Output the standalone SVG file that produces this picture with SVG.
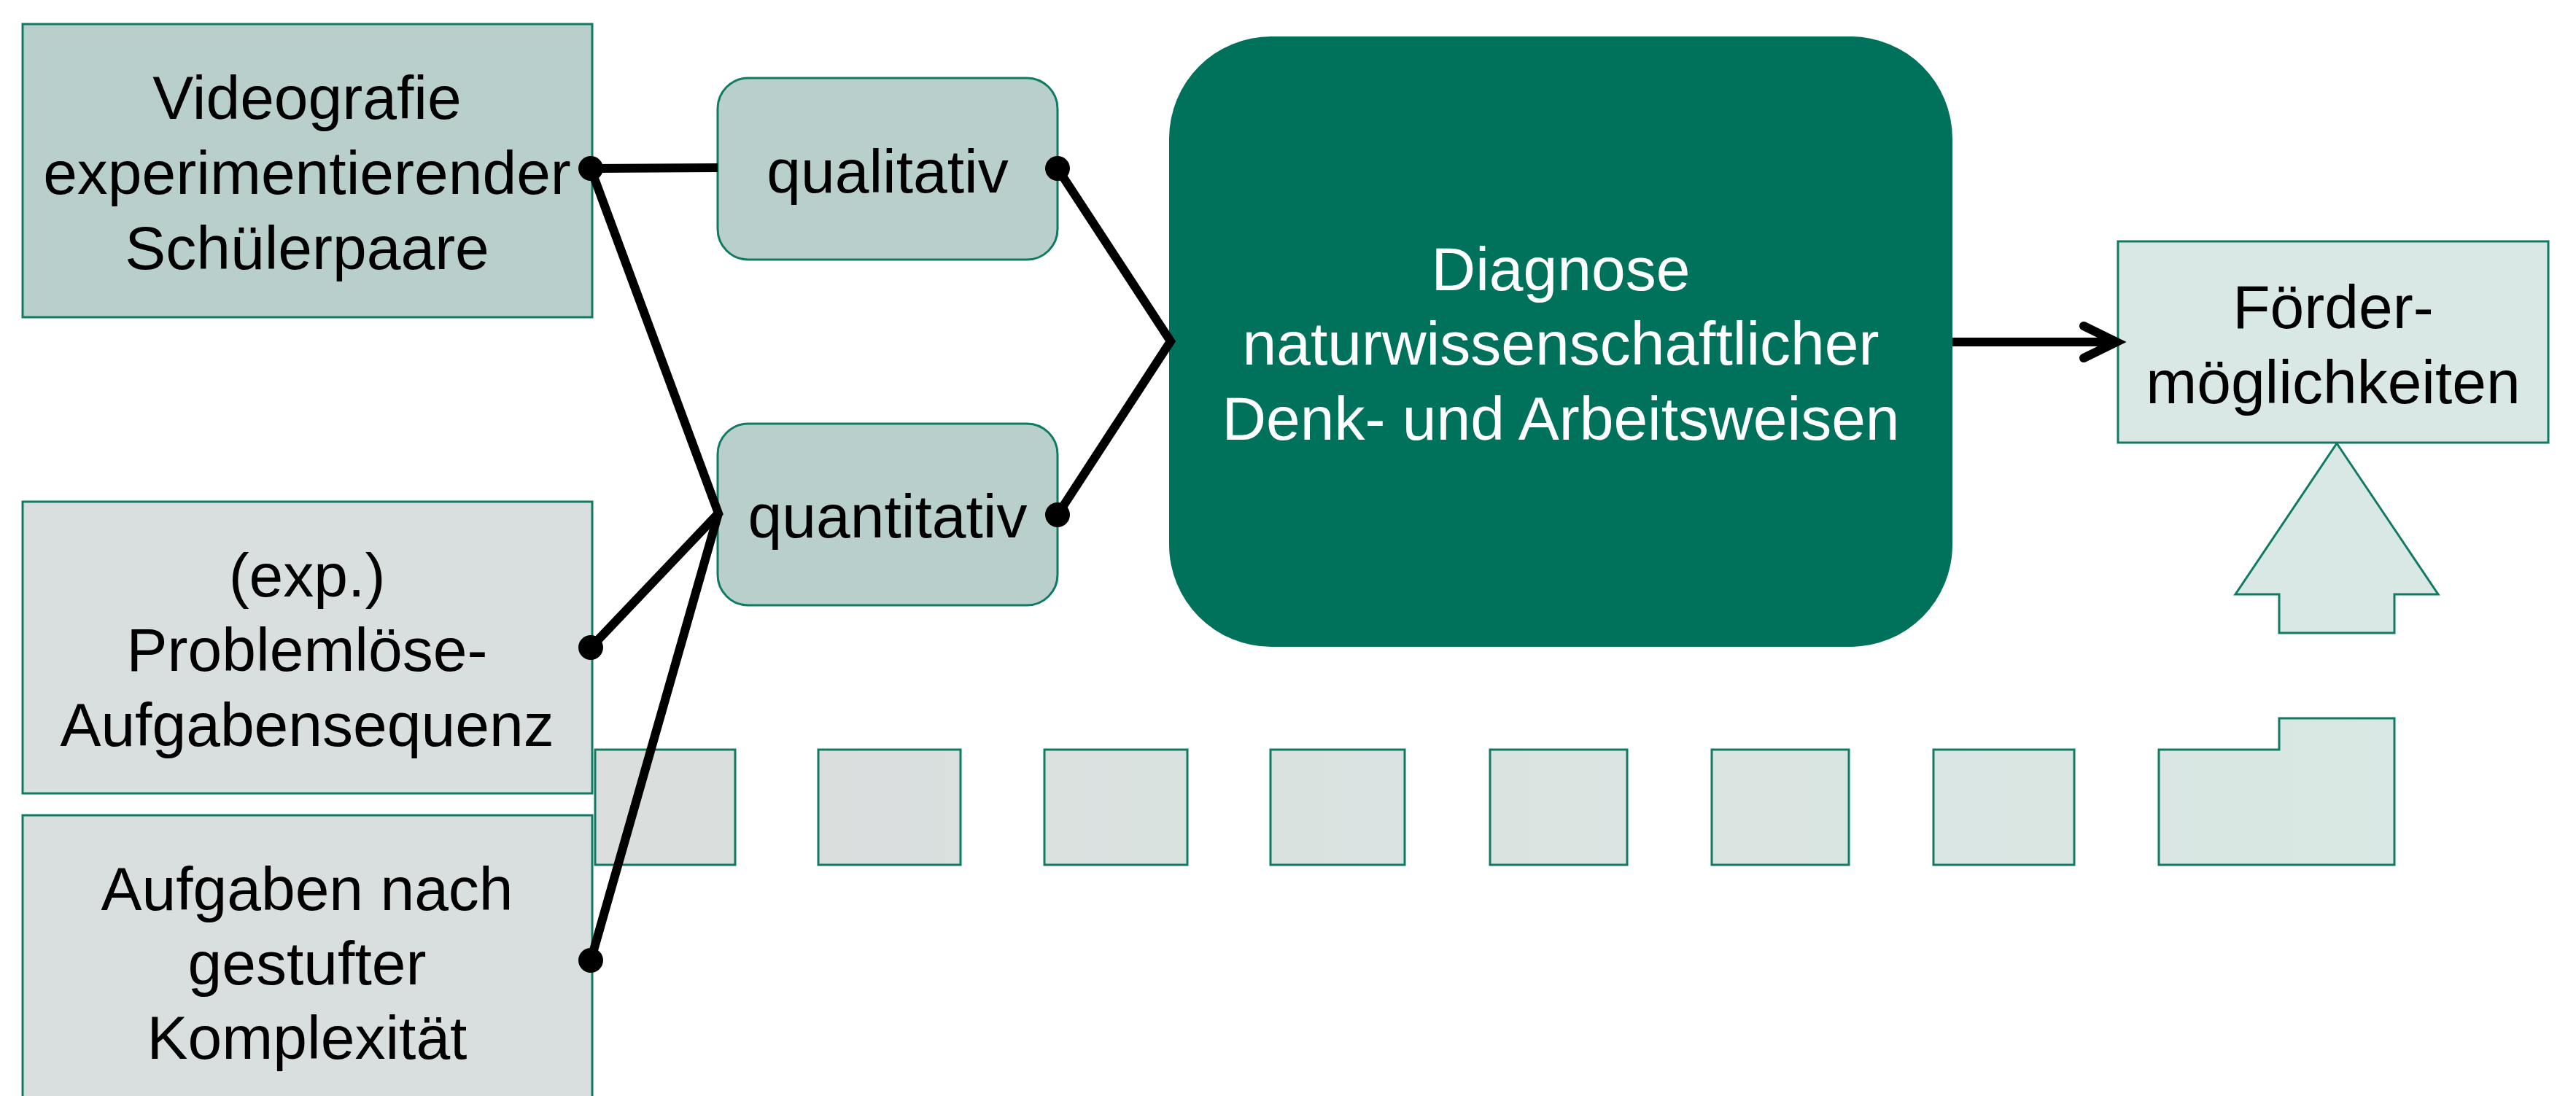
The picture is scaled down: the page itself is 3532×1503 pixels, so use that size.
<svg xmlns="http://www.w3.org/2000/svg" width="3532" height="1503" viewBox="0 0 3532 1503">
<defs>
<style>
.t{font-family:"Liberation Sans",Arial,sans-serif;font-size:84px;text-anchor:middle;fill:#000}
.w{fill:#fff}
.mid{fill:#b9cfcc;stroke:#117a63;stroke-width:3}
.gray{fill:#d9dfde;stroke:#117a63;stroke-width:3}
.light{fill:#d9e8e5;stroke:#117a63;stroke-width:3}
.step{fill:url(#g);stroke:#117a63;stroke-width:3}
.ln{stroke:#000;stroke-width:12;fill:none;stroke-linecap:round;stroke-linejoin:miter}
</style>
<linearGradient id="g" gradientUnits="userSpaceOnUse" x1="816" y1="0" x2="3283" y2="0">
<stop offset="0" stop-color="#dadedd"/>
<stop offset="1" stop-color="#d9e8e4"/>
</linearGradient>
</defs>
<rect width="3532" height="1503" fill="#fff"/>

<g id="staircase">
<rect class="step" x="816" y="1028" width="192" height="158"/>
<rect class="step" x="1122" y="1028" width="195" height="158"/>
<rect class="step" x="1432" y="1028" width="196" height="158"/>
<rect class="step" x="1742" y="1028" width="184" height="158"/>
<rect class="step" x="2043" y="1028" width="188" height="158"/>
<rect class="step" x="2347" y="1028" width="188" height="158"/>
<rect class="step" x="2651" y="1028" width="193" height="158"/>
<path class="step" d="M2960 1028 H3125 V985 H3283 V1186 H2960 Z"/>
</g>

<g id="up-arrow">
<path class="light" d="M3204 608 L3343 815 H3283 V868 H3125 V815 H3065 Z"/>
</g>

<g id="n-videografie">
<rect class="mid" x="31" y="33" width="781" height="402"/>
<text class="t" x="421" y="163">Videografie</text>
<text class="t" x="421" y="266">experimentierender</text>
<text class="t" x="421" y="369">Schülerpaare</text>
</g>

<g id="n-problem">
<rect class="gray" x="31" y="688" width="781" height="400"/>
<text class="t" x="421" y="818">(exp.)</text>
<text class="t" x="421" y="920">Problemlöse-</text>
<text class="t" x="421" y="1023">Aufgabensequenz</text>
</g>

<g id="n-aufgaben">
<rect class="gray" x="31" y="1118" width="781" height="400"/>
<text class="t" x="421" y="1248">Aufgaben nach</text>
<text class="t" x="421" y="1350">gestufter</text>
<text class="t" x="421" y="1452">Komplexität</text>
</g>

<g id="n-qualitativ">
<rect class="mid" x="984" y="107" width="466" height="249" rx="42" ry="42"/>
<text class="t" x="1217" y="264">qualitativ</text>
</g>

<g id="n-quantitativ">
<rect class="mid" x="984" y="581" width="466" height="249" rx="42" ry="42"/>
<text class="t" x="1217" y="737">quantitativ</text>
</g>

<g id="n-diagnose">
<rect x="1603" y="50" width="1074" height="837" rx="140" ry="140" fill="#00715a"/>
<text class="t w" x="2140" y="398">Diagnose</text>
<text class="t w" x="2140" y="500">naturwissenschaftlicher</text>
<text class="t w" x="2140" y="603">Denk- und Arbeitsweisen</text>
</g>

<g id="n-foerder">
<rect class="light" x="2904" y="331" width="590" height="276"/>
<text class="t" x="3199" y="450">Förder-</text>
<text class="t" x="3199" y="553">möglichkeiten</text>
</g>

<g id="connectors">
<path class="ln" style="stroke-linecap:butt" d="M810 231 L984 230"/>
<path class="ln" style="stroke-linecap:butt" d="M810 231 L985 704 L810 888"/>
<path class="ln" style="stroke-linecap:butt" d="M985 704 L810 1317"/>
<path class="ln" style="stroke-linecap:butt" d="M1450 231 L1605 468 L1450 706"/>
<path class="ln" style="stroke-linecap:butt" d="M2677 469 H2900"/>
<path class="ln" d="M2857 447 L2902 469 L2857 491"/>
<circle cx="810" cy="231" r="17"/>
<circle cx="810" cy="888" r="17"/>
<circle cx="810" cy="1317" r="17"/>
<circle cx="1450" cy="231" r="17"/>
<circle cx="1450" cy="706" r="17"/>
</g>
</svg>
